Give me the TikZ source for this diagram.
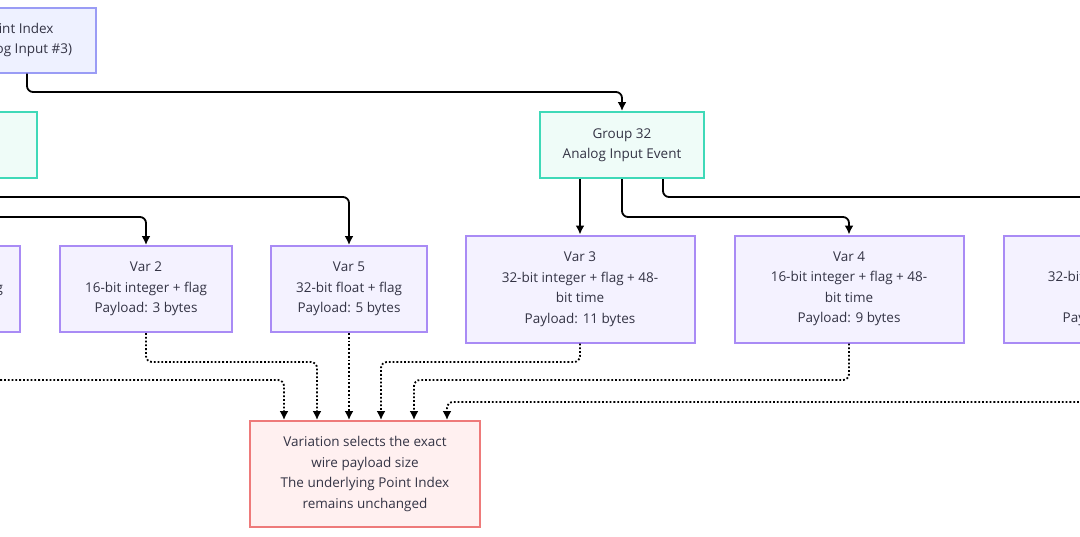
\documentclass[tikz,border=0pt]{standalone}
\usepackage{fontspec}
\setmainfont{Open Sans}
\usetikzlibrary{arrows.meta}
\definecolor{varFill}{HTML}{F4F2FF}
\definecolor{varLine}{HTML}{A98BF5}
\definecolor{grpFill}{HTML}{EFFCF8}
\definecolor{grpLine}{HTML}{3FD9B8}
\definecolor{idxFill}{HTML}{EEF1FF}
\definecolor{idxLine}{HTML}{9A9CF5}
\definecolor{noteFill}{HTML}{FFF0F0}
\definecolor{noteLine}{HTML}{EE7A7A}
\definecolor{txt}{HTML}{333344}
\tikzstyle{diagram}=[x=1pt, y=-1pt, font=\fontsize{13.5}{20.5}\selectfont, text=txt]
\tikzstyle{box}=[rectangle, draw, line width=2pt, align=center, inner sep=0pt]
\tikzstyle{idx}=[box, fill=idxFill, draw=idxLine, minimum width=156pt, minimum height=65pt]
\tikzstyle{grp}=[box, fill=grpFill, draw=grpLine, minimum width=164pt, minimum height=66pt]
\tikzstyle{var}=[box, fill=varFill, draw=varLine, minimum height=86pt]
\tikzstyle{varw}=[box, fill=varFill, draw=varLine, minimum width=229pt, minimum height=107pt]
\tikzstyle{note}=[box, fill=noteFill, draw=noteLine, minimum width=230pt, minimum height=106pt]
\tikzstyle{edge}=[line width=1.8pt, -{Latex[length=9pt,width=9pt]}, rounded corners=6pt]
\tikzstyle{dots}=[line width=1.8pt, dotted, -{Latex[length=9pt,width=9pt]}, rounded corners=6pt]
\begin{document}
\begin{tikzpicture}[diagram]
	\useasboundingbox (0,0) rectangle (1080,536);
	%% index and groups
	\draw (18,40) node[idx] (pidx) {Point Index\\(Analog Input \#3)};
	\draw (-45,145) node[grp] (g30) {Group 30\\Analog Input};
	\draw (622,145) node[grp] (g32) {Group 32\\Analog Input Event};
	%% variations
	\draw (-58,289) node[var, minimum width=156pt] (v1) {Var 1\\32-bit integer + flag\\Payload: 5 bytes};
	\draw (146,289) node[var, minimum width=172pt] (v2) {Var 2\\16-bit integer + flag\\Payload: 3 bytes};
	\draw (349,289) node[var, minimum width=156pt] (v5) {Var 5\\32-bit float + flag\\Payload: 5 bytes};
	\draw (580,289) node[varw] (v3) {Var 3\\32-bit integer + flag + 48-\\bit time\\Payload: 11 bytes};
	\draw (849,289) node[varw] (v4) {Var 4\\16-bit integer + flag + 48-\\bit time\\Payload: 9 bytes};
	\draw (1118,289) node[varw] (v7) {Var 7\\32-bit float + flag + 48-\\bit time\\Payload: 11 bytes};
	%% note
	\draw (365,474) node[note] (nt) {Variation selects the exact\\wire payload size\\The underlying Point Index\\remains unchanged};
	%%%%%%
	\draw[edge] (pidx.south -| 27,0) |- (622,92) -- (g32.north);
	\draw[edge] (g30.south) |- (146,217) -- (v2.north);
	\draw[edge] (g30.south -| -20,0) |- (349,197) -- (v5.north);
	\draw[edge] (g32.south -| v3.north) -- (v3.north);
	\draw[edge] (g32.south) |- (849,217) -- (v4.north);
	\draw[edge] (g32.south -| 663,0) |- (v7.north |- 0,197) -- (v7.north);
	%%%%%%
	\draw[dots] (v1.south) |- (284,380) -- (nt.north -| 284,0);
	\draw[dots] (v2.south) |- (317,362) -- (nt.north -| 317,0);
	\draw[dots] (v5.south) -- (nt.north -| 349,0);
	\draw[dots] (v3.south) |- (381,362) -- (nt.north -| 381,0);
	\draw[dots] (v4.south) |- (414,380) -- (nt.north -| 414,0);
	\draw[dots] (v7.south) |- (447,402) -- (nt.north -| 447,0);
\end{tikzpicture}
\end{document}
